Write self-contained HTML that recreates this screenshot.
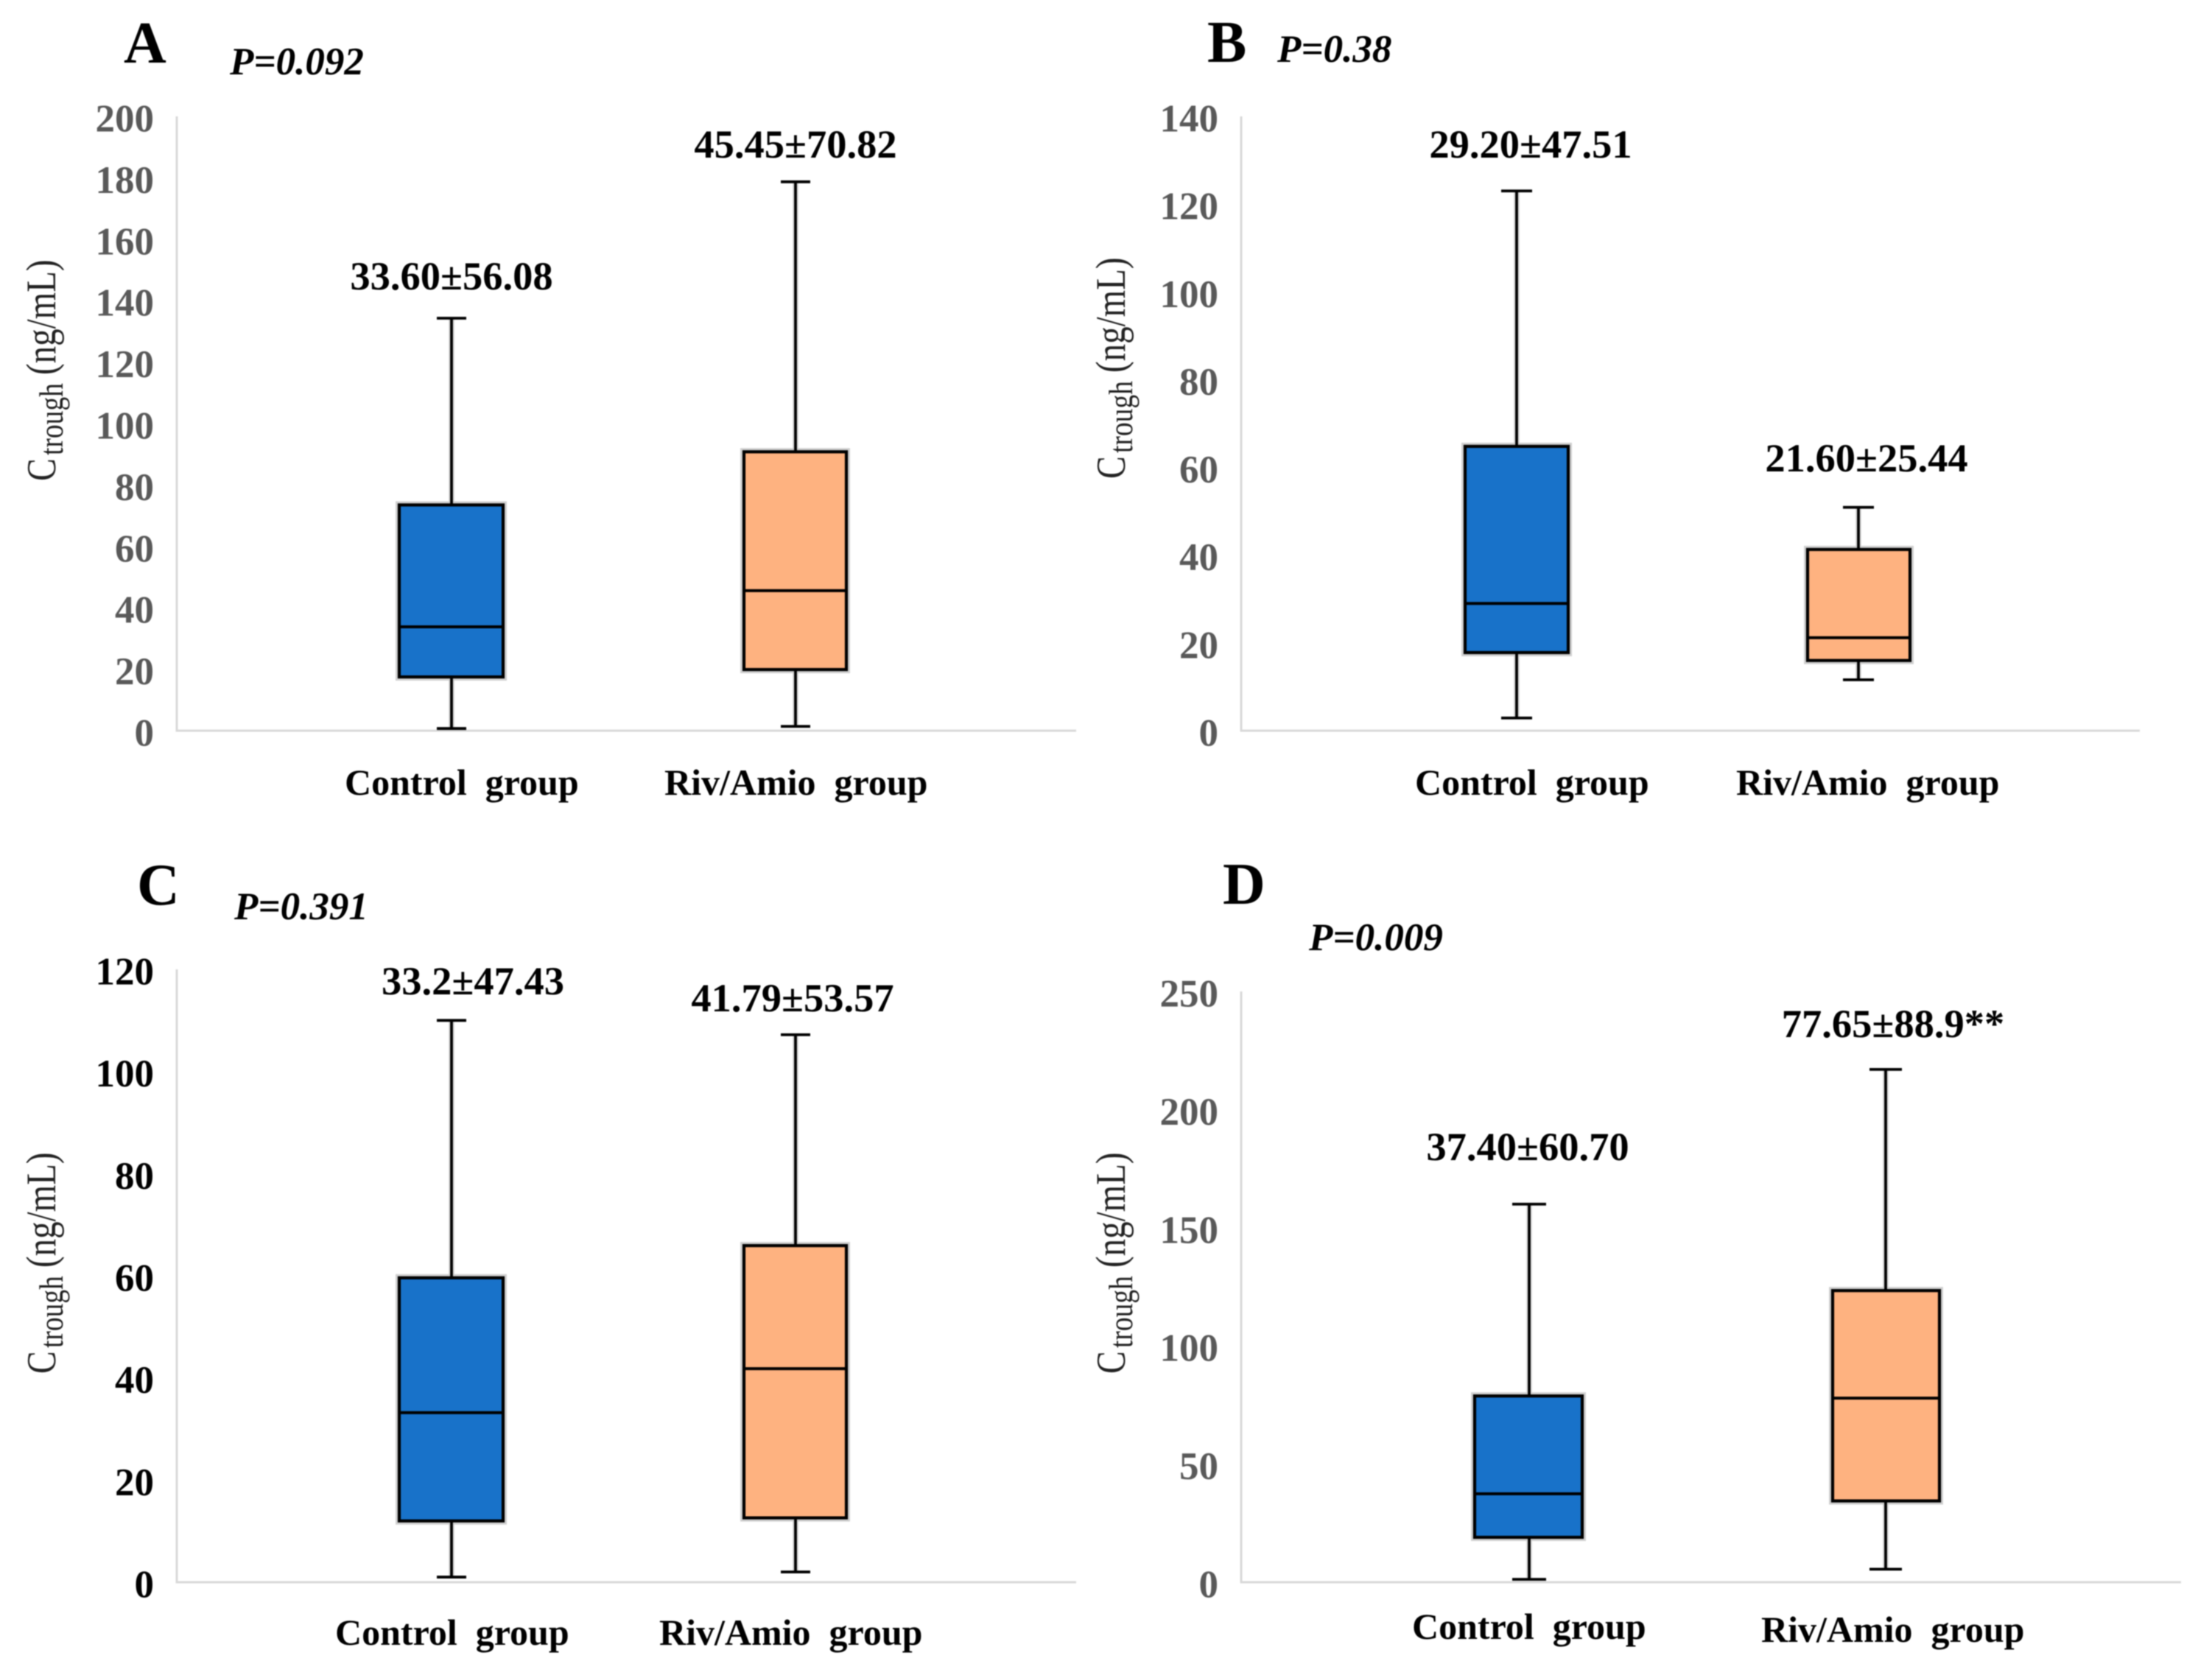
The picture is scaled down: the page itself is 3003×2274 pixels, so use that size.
<!DOCTYPE html>
<html lang="en">
<head>
<meta charset="utf-8">
<title>Ctrough box plots by group</title>
<style>
  html, body { margin: 0; padding: 0; background: #fff; }
  #figure { display: block; width: 3003px; height: 2274px; background: #fff; filter: blur(0.7px); }
  text { font-family: "Liberation Serif", serif; }
  .tick { font-weight: 700; font-size: 53px; text-anchor: end; }
  .value { font-weight: 700; font-size: 54.5px; text-anchor: middle; fill: #000; }
  .group { font-weight: 700; font-size: 50px; fill: #000; white-space: pre; }
  .letter { font-weight: 700; font-size: 80px; fill: #000; }
  .pval { font-weight: 700; font-style: italic; font-size: 53px; fill: #000; }
  .ytitle { font-size: 46px; fill: #222; }
</style>
</head>
<body>
<svg id="figure" xmlns="http://www.w3.org/2000/svg" width="3003" height="2274" viewBox="0 0 3003 2274"></svg>
<script>
// ---- Shared data ----
const categories = ['Control  group', 'Riv/Amio  group'];
const yTitleMain = 'C';
const yTitleSub = 'trough';
const yTitleUnit = '(ng/mL)';

// ---- Panel A ----
const aTicks = [0, 20, 40, 60, 80, 100, 120, 140, 160, 180, 200];
const aMin = [0.7, 1.4];
const aQ1 = [17.5, 19.9];
const aMedian = [33.8, 45.6];
const aQ3 = [73.5, 90.8];
const aMax = [134.3, 178.7];
const aLabels = ['33.60±56.08', '45.45±70.82'];

// ---- Panel B ----
const bTicks = [0, 20, 40, 60, 80, 100, 120, 140];
const bMin = [2.9, 11.6];
const bQ1 = [17.8, 16];
const bMedian = [29, 21.2];
const bQ3 = [64.8, 41.3];
const bMax = [123, 50.9];
const bLabels = ['29.20±47.51', '21.60±25.44'];

// ---- Panel C ----
const cTicks = [0, 20, 40, 60, 80, 100, 120];
const cMin = [1, 2];
const cQ1 = [12, 12.6];
const cMedian = [33.2, 41.8];
const cQ3 = [59.6, 65.9];
const cMax = [110, 107.2];
const cLabels = ['33.2±47.43', '41.79±53.57'];

// ---- Panel D ----
const dTicks = [0, 50, 100, 150, 200, 250];
const dMin = [1.2, 5.5];
const dQ1 = [19, 34.4];
const dMedian = [37.4, 77.9];
const dQ3 = [78.8, 123.4];
const dMax = [160, 217];
const dLabels = ['37.40±60.70', '77.65±88.9**'];

// ---- Layout (positions only, no data) ----
const layouts = [
  { id: 'a', letter: 'A', p: 'P=0.092', ticks: aTicks, min: aMin, q1: aQ1, med: aMedian, q3: aQ3, max: aMax, labels: aLabels,
    left: 240, right: 1461, top: 158, bottom: 992, tickColor: '#595959',
    letterX: 168, letterY: 85, pX: 312, pY: 101,
    cx: [613, 1080], boxL: [542, 1010], boxR: [683, 1149], cap: [20, 20],
    labelX: [613, 1080], labelY: [393, 214],
    groupX: [468, 902], groupY: [1079, 1079],
    titleX: 75, titleY: 653 },
  { id: 'b', letter: 'B', p: 'P=0.38', ticks: bTicks, min: bMin, q1: bQ1, med: bMedian, q3: bQ3, max: bMax, labels: bLabels,
    left: 1685, right: 2905, top: 158, bottom: 992, tickColor: '#595959',
    letterX: 1639, letterY: 84, pX: 1734, pY: 84,
    cx: [2059, 2523], boxL: [1989, 2454], boxR: [2129, 2593], cap: [21, 21],
    labelX: [2078, 2534], labelY: [214, 640],
    groupX: [1921, 2357], groupY: [1079, 1079],
    titleX: 1527, titleY: 650 },
  { id: 'c', letter: 'C', p: 'P=0.391', ticks: cTicks, min: cMin, q1: cQ1, med: cMedian, q3: cQ3, max: cMax, labels: cLabels,
    left: 240, right: 1461, top: 1316, bottom: 2148, tickColor: '#000000',
    letterX: 186, letterY: 1228, pX: 318, pY: 1248,
    cx: [613, 1080], boxL: [542, 1010], boxR: [683, 1149], cap: [20, 20],
    labelX: [642, 1076], labelY: [1350, 1373],
    groupX: [455, 895], groupY: [2233, 2233],
    titleX: 75, titleY: 1865 },
  { id: 'd', letter: 'D', p: 'P=0.009', ticks: dTicks, min: dMin, q1: dQ1, med: dMedian, q3: dQ3, max: dMax, labels: dLabels,
    left: 1685, right: 2961, top: 1346, bottom: 2148, tickColor: '#595959',
    letterX: 1660, letterY: 1227, pX: 1777, pY: 1290,
    cx: [2076, 2560], boxL: [2002, 2488], boxR: [2148, 2633], cap: [23, 22],
    labelX: [2074, 2570], labelY: [1575, 1408],
    groupX: [1917, 2391], groupY: [2225, 2229],
    titleX: 1527, titleY: 1865 }
];

const SVG_NS = 'http://www.w3.org/2000/svg';
const fig = document.getElementById('figure');
const seriesKeys = ['control', 'riv-amio'];
const seriesFills = ['#1872c9', '#feb280'];

function line(parent, name, x1, y1, x2, y2, stroke, width) {
  const el = document.createElementNS(SVG_NS, 'line');
  
  
  el.setAttribute('x1', x1);
  el.setAttribute('y1', y1);
  el.setAttribute('x2', x2);
  el.setAttribute('y2', y2);
  el.setAttribute('stroke', stroke);
  el.setAttribute('stroke-width', width);
  parent.appendChild(el);
  return el;
}

function rect(parent, name, x, y, w, h, fill, stroke, width) {
  const el = document.createElementNS(SVG_NS, 'rect');
  
  
  el.setAttribute('x', x);
  el.setAttribute('y', y);
  el.setAttribute('width', w);
  el.setAttribute('height', h);
  el.setAttribute('fill', fill);
  el.setAttribute('stroke', stroke);
  el.setAttribute('stroke-width', width);
  parent.appendChild(el);
  return el;
}

function label(parent, name, x, y, str, cls) {
  const el = document.createElementNS(SVG_NS, 'text');
  
  
  el.setAttribute('x', x);
  el.setAttribute('y', y);
  el.setAttribute('class', cls);
  el.textContent = str;
  parent.appendChild(el);
  return el;
}

function drawYTitle(parent, L) {
  const el = document.createElementNS(SVG_NS, 'text');
  
  
  el.setAttribute('class', 'ytitle');
  el.setAttribute('transform', 'translate(' + L.titleX + ',' + L.titleY + ') rotate(-90) scale(1,1.22)');
  const main = document.createElementNS(SVG_NS, 'tspan');
  main.setAttribute('x', 0);
  main.setAttribute('y', 0);
  main.textContent = yTitleMain;
  el.appendChild(main);
  const sub = document.createElementNS(SVG_NS, 'tspan');
  sub.setAttribute('x', 35);
  sub.setAttribute('y', 8);
  sub.setAttribute('font-size', '37.5');
  sub.textContent = yTitleSub;
  el.appendChild(sub);
  const unit = document.createElementNS(SVG_NS, 'tspan');
  unit.setAttribute('x', 144);
  unit.setAttribute('y', 0);
  unit.setAttribute('font-size', '47');
  unit.textContent = yTitleUnit;
  el.appendChild(unit);
  parent.appendChild(el);
}

function drawPanel(L) {
  const g = document.createElementNS(SVG_NS, 'g');
  
  
  fig.appendChild(g);

  const domainMax = L.ticks[L.ticks.length - 1];
  const yScale = function (v) { return L.bottom - (v / domainMax) * (L.bottom - L.top); };

  label(g, 'panel-letter', L.letterX, L.letterY, L.letter, 'letter');
  label(g, 'p-value', L.pX, L.pY, L.p, 'pval');
  drawYTitle(g, L);

  line(g, 'y-axis-line', L.left, L.top, L.left, L.bottom + 1.5, '#d9d9d9', 3);
  line(g, 'x-axis-line', L.left - 1.5, L.bottom, L.right, L.bottom, '#d9d9d9', 3);

  L.ticks.forEach(function (t) {
    const tickEl = label(g, 'y-tick-label', L.left - 31, yScale(t) + 20.5, String(t), 'tick');
    tickEl.setAttribute('fill', L.tickColor);
  });

  categories.forEach(function (cat, i) {
    const key = seriesKeys[i];
    const cx = L.cx[i];
    const bl = L.boxL[i];
    const br = L.boxR[i];
    const cap = L.cap[i];
    const yMax = yScale(L.max[i]);
    const yQ3 = yScale(L.q3[i]);
    const yMed = yScale(L.med[i]);
    const yQ1 = yScale(L.q1[i]);
    const yMin = yScale(L.min[i]);

    line(g, 'whisker-halo-' + key, cx, yMax, cx, yMin, '#dedede', 8);
    rect(g, 'box-halo-' + key, bl, yQ3, br - bl, yQ1 - yQ3, 'none', '#d0d0d0', 10);

    line(g, 'upper-whisker-' + key, cx, yMax, cx, yQ3, '#000', 3.8);
    line(g, 'upper-cap-' + key, cx - cap, yMax, cx + cap, yMax, '#000', 3.8);
    line(g, 'lower-whisker-' + key, cx, yQ1, cx, yMin, '#000', 3.8);
    line(g, 'lower-cap-' + key, cx - cap, yMin, cx + cap, yMin, '#000', 3.8);
    rect(g, 'box-' + key, bl, yQ3, br - bl, yQ1 - yQ3, seriesFills[i], '#000', 4.2);
    line(g, 'median-' + key, bl, yMed, br, yMed, '#000', 4);

    label(g, 'value-label-' + key, L.labelX[i], L.labelY[i], L.labels[i], 'value');
    label(g, 'x-category-' + key, L.groupX[i], L.groupY[i], cat, 'group');
  });
}

layouts.forEach(drawPanel);
</script>
</body>
</html>
